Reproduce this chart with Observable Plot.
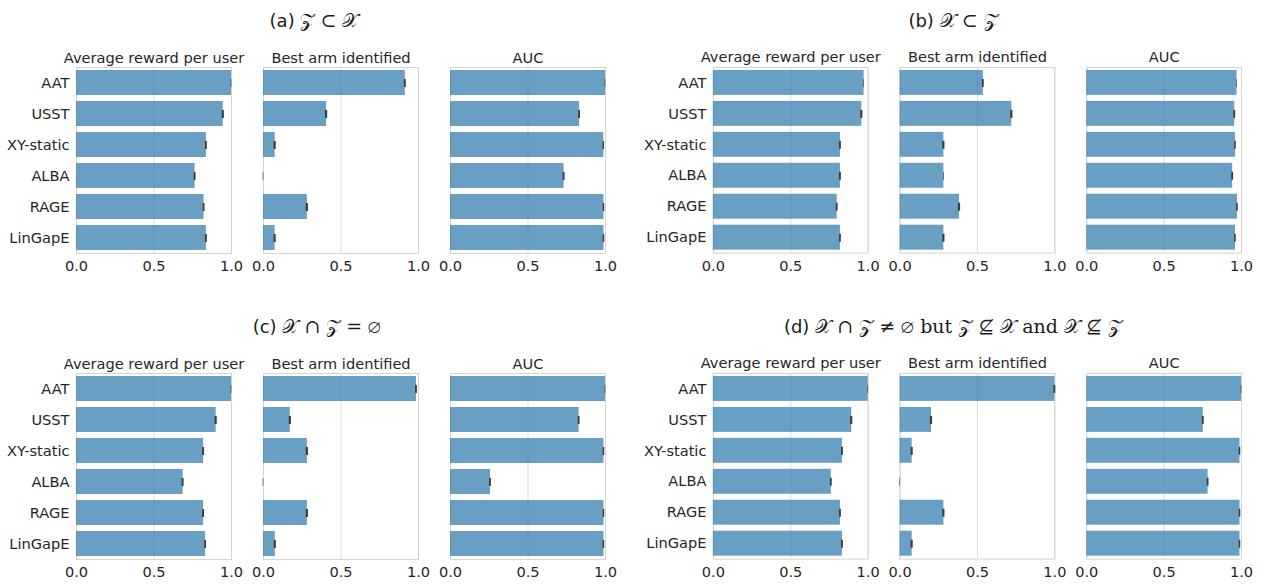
<!DOCTYPE html>
<html><head><meta charset="utf-8">
<script src="https://cdn.jsdelivr.net/npm/d3@7"></script>
<script src="https://cdn.jsdelivr.net/npm/@observablehq/plot@0.6"></script>
<style>
body{margin:0;background:#fff;}
#root{position:relative;width:1266px;height:586px;overflow:hidden;font-family:"DejaVu Sans",sans-serif;}
.gt{position:absolute;transform:translate(-50%,-50%);white-space:nowrap;font-size:18px;color:#1a1a1a;}
.m{font-family:"DejaVu Serif",serif;font-size:19px;}
.g{position:absolute;}
</style></head><body><div id="root"></div>
<script>
const methods = ["AAT","USST","XY-static","ALBA","RAGE","LinGapE"];
const metrics = ["Average reward per user","Best arm identified","AUC"];
const xTicks = [0, 0.5, 1.0];
const groupLabels = ["(a)","(b)","(c)","(d)"];
const groupMath = ["𝒵 ⊂ 𝒳","𝒳 ⊂ 𝒵","𝒳 ∩ 𝒵 = ∅","𝒳 ∩ 𝒵 ≠ ∅ but 𝒵 ⊈ 𝒳 and 𝒳 ⊈ 𝒵"];

// (a) Z ⊂ X
const rewardA  = [1.000, 0.947, 0.838, 0.765, 0.823, 0.838];
const bestArmA = [0.915, 0.407, 0.075, 0.000, 0.283, 0.075];
const aucA     = [1.000, 0.833, 0.989, 0.733, 0.990, 0.990];
// (b) X ⊂ Z
const rewardB  = [0.974, 0.959, 0.821, 0.821, 0.800, 0.821];
const bestArmB = [0.538, 0.722, 0.283, 0.283, 0.384, 0.283];
const aucB     = [0.971, 0.956, 0.961, 0.943, 0.974, 0.961];
// (c) X ∩ Z = ∅
const rewardC  = [1.000, 0.901, 0.820, 0.688, 0.820, 0.833];
const bestArmC = [0.987, 0.173, 0.283, 0.000, 0.283, 0.076];
const aucC     = [1.000, 0.830, 0.990, 0.258, 0.990, 0.990];
// (d) X ∩ Z ≠ ∅ but Z ⊈ X and X ⊈ Z
const rewardD  = [1.000, 0.894, 0.834, 0.762, 0.821, 0.834];
const bestArmD = [1.000, 0.203, 0.078, 0.000, 0.283, 0.078];
const aucD     = [1.000, 0.753, 0.990, 0.784, 0.990, 0.990];

// error-bar half widths
const errReward  = [0.002, 0.007, 0.006, 0.006, 0.006, 0.006];
const errBestArm = [0.006, 0.007, 0.007, 0.002, 0.007, 0.007];
const errAuc     = [0.002, 0.006, 0.005, 0.006, 0.005, 0.005];

const groups = [
  {vals:[rewardA,bestArmA,aucA], left:0,   top:40,  cx:314, cy:20},
  {vals:[rewardB,bestArmB,aucB], left:637, top:40,  cx:953, cy:20},
  {vals:[rewardC,bestArmC,aucC], left:0,   top:346, cx:317, cy:326},
  {vals:[rewardD,bestArmD,aucD], left:637, top:346, cx:953, cy:326}
];
const errs = [errReward, errBestArm, errAuc];

const root = document.getElementById("root");

groups.forEach((g, gi) => {
  const rows = [];
  g.vals.forEach((vals, k) => vals.forEach((v, i) => rows.push({metric: metrics[k], method: methods[i], value: v, err: errs[k][i]})));
  const chart = Plot.plot({
    width: 630, height: 240,
    marginLeft: 75, marginRight: 23, marginTop: 27, marginBottom: 27,
    style: {fontFamily: "DejaVu Sans, sans-serif", fontSize: "14.6px", color: "#262626", background: "transparent", overflow: "visible"},
    fx: {domain: metrics, paddingInner: 0.17, paddingOuter: 0, label: null, axis: "top", tickSize: 0, tickPadding: 5},
    x: {domain: [0, 1], ticks: xTicks, tickFormat: d3.format(".1f"), tickSize: 0, tickPadding: 7, label: null},
    y: {domain: methods, paddingInner: 0.2, paddingOuter: 0.1, tickSize: 0, tickPadding: 7, label: null},
    marks: [
      Plot.gridX(xTicks, {stroke: "#dcdcdc", strokeOpacity: 1}),
      Plot.frame({stroke: "#d4d4d4"}),
      Plot.barX(rows, {fx: "metric", y: "method", x: "value", fill: "#2b76ab", fillOpacity: 0.7}),
      Plot.ruleY(rows, {fx: "metric", y: "method", x1: d => d.value - d.err, x2: d => d.value + d.err, stroke: "#3d3d3d", strokeWidth: 8})
    ]
  });
  const wrap = document.createElement("div");
  wrap.className = "g";
  wrap.style.left = g.left + "px";
  wrap.style.top = g.top + "px";
  wrap.appendChild(chart);
  root.appendChild(wrap);

  const t = document.createElement("div");
  t.className = "gt";
  t.style.left = g.cx + "px";
  t.style.top = g.cy + "px";
  t.innerHTML = groupLabels[gi] + " <span class='m'>" + groupMath[gi].replace(/(but|and)/g, "<span style='font-style:normal'>$1</span>") + "</span>";
  root.appendChild(t);
});
</script>
</body></html>
